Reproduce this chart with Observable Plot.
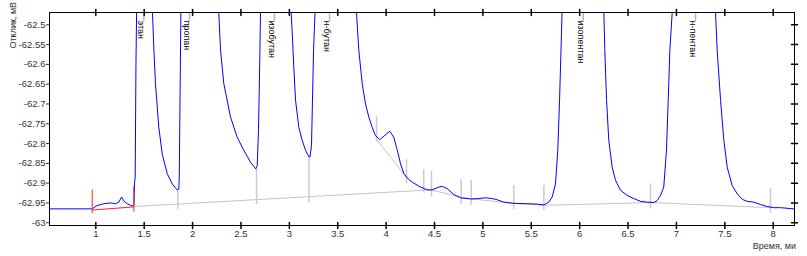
<!DOCTYPE html>
<html><head><meta charset="utf-8">
<script src="https://cdn.jsdelivr.net/npm/d3@7"></script>
<script src="https://cdn.jsdelivr.net/npm/@observablehq/plot@0.6"></script>
<style>body{margin:0;background:#fff} svg{display:block}</style>
</head><body><div id="chart"></div>
<script>
// detector signal (time, min / response, mV); peaks run off the top of the view
const curveT = [0.52,0.963,1.010,1.083,1.152,1.204,1.238,1.266,1.289,1.324,1.359,1.385,1.395,1.400,1.407,1.415,1.425,
  1.500,
  1.576,1.586,1.599,1.617,1.651,1.686,1.738,1.790,1.841,1.858,1.862,1.870,1.878,1.882,
  1.990,
  2.262,2.271,2.289,2.323,2.392,2.461,2.529,2.598,2.653,2.668,2.681,2.691,2.702,2.706,
  2.850,
  3.012,3.019,3.030,3.046,3.064,3.098,3.133,3.167,3.201,3.213,3.229,3.239,3.250,3.265,3.270,
  3.420,
  3.685,3.694,3.718,3.753,3.787,3.821,3.856,3.890,3.934,4.038,4.079,4.115,4.149,4.183,4.234,4.286,4.355,4.425,4.476,
  4.544,4.580,4.631,4.700,4.769,4.872,4.958,5.027,5.096,5.148,5.216,5.320,5.458,5.561,5.630,5.681,5.716,5.750,5.774,
  5.792,5.802,5.818,5.822,
  6.040,
  6.245,6.250,6.260,6.278,6.301,6.336,6.371,6.422,6.491,6.560,6.629,6.698,6.766,6.801,6.835,6.869,6.897,6.915,6.932,
  6.956,6.960,
  7.200,
  7.398,7.404,7.421,7.456,7.490,7.525,7.576,7.628,7.680,7.731,7.800,7.869,7.938,8.006,8.076,8.213];
const curveV = [-62.965,-62.965,-62.957,-62.952,-62.950,-62.952,-62.948,-62.935,-62.945,-62.952,-62.956,-62.958,-62.955,-62.900,-62.885,-62.600,-62.400,
  -61.500,
  -62.400,-62.470,-62.557,-62.649,-62.759,-62.826,-62.876,-62.902,-62.917,-62.915,-62.890,-62.700,-62.500,-62.400,
  -61.300,
  -62.400,-62.470,-62.565,-62.649,-62.733,-62.784,-62.817,-62.847,-62.864,-62.856,-62.767,-62.640,-62.470,-62.400,
  -61.500,
  -62.400,-62.470,-62.523,-62.607,-62.691,-62.759,-62.792,-62.817,-62.833,-62.834,-62.805,-62.691,-62.565,-62.470,-62.400,
  -61.500,
  -62.400,-62.470,-62.565,-62.649,-62.700,-62.733,-62.759,-62.780,-62.790,-62.769,-62.784,-62.817,-62.851,-62.876,-62.891,-62.900,-62.910,-62.917,-62.917,
  -62.910,-62.908,-62.914,-62.929,-62.937,-62.940,-62.939,-62.937,-62.939,-62.942,-62.948,-62.951,-62.952,-62.953,-62.955,-62.948,-62.935,-62.902,-62.817,
  -62.691,-62.607,-62.470,-62.400,
  -61.200,
  -62.400,-62.470,-62.565,-62.691,-62.792,-62.860,-62.893,-62.918,-62.931,-62.939,-62.946,-62.948,-62.949,-62.944,-62.931,-62.910,-62.817,-62.691,-62.565,
  -62.470,-62.400,
  -61.300,
  -62.400,-62.470,-62.565,-62.691,-62.792,-62.860,-62.906,-62.927,-62.941,-62.946,-62.948,-62.954,-62.959,-62.962,-62.962,-62.965];

// named peaks
const peakNames = ["этан","пропан","изобутан","н-бутан","изопентан","н-пентан"];
const peakTimes = [1.496, 1.968, 2.847, 3.415, 6.037, 7.197];

// integration baseline (gray)
const baseT = [1.401, 4.455, 4.776, 4.879, 5.320, 5.630, 6.732, 7.972];
const baseV = [-62.959, -62.917, -62.935, -62.940, -62.951, -62.956, -62.949, -62.962];
const skimT = [3.901, 4.220];
const skimV = [-62.789, -62.889];

// peak boundary markers (gray)
const markerT  = [1.847, 2.661, 3.203, 3.901, 4.211, 4.389, 4.469, 4.776, 4.879, 5.320, 5.630, 6.732, 7.972];
const markerLo = [-62.967,-62.954,-62.950,-62.796,-62.902,-62.925,-62.935,-62.954,-62.956,-62.967,-62.969,-62.965,-62.977];
const markerHi = [-62.917,-62.864,-62.834,-62.733,-62.841,-62.866,-62.870,-62.891,-62.893,-62.906,-62.906,-62.902,-62.914];

// red start segment
const redT  = [0.963, 1.393];
const redV  = [-62.968, -62.960];
const redLo = [-62.977, -62.973];
const redHi = [-62.917, -62.908];

// axes
const xTicks = [1, 1.5, 2, 2.5, 3, 3.5, 4, 4.5, 5, 5.5, 6, 6.5, 7, 7.5, 8];
const yTicks = [-63, -62.95, -62.9, -62.85, -62.8, -62.75, -62.7, -62.65, -62.6, -62.55, -62.5];
const xTitle = "Время, ми";
const yTitle = "Отклик, мВ";

const curve = curveT.map((t, i) => ({t, v: curveV[i]}));
const base = baseT.map((t, i) => ({t, v: baseV[i]}));
const skim = skimT.map((t, i) => ({t, v: skimV[i]}));
const markers = markerT.map((t, i) => ({t, lo: markerLo[i], hi: markerHi[i]}));
const red = redT.map((t, i) => ({t, v: redV[i], lo: redLo[i], hi: redHi[i]}));
const peaks = peakNames.map((name, i) => ({name, t: peakTimes[i]}));

const lineShape = {draw(ctx, l) { ctx.moveTo(0, 0); ctx.lineTo(0, -l); }};

const plot = Plot.plot({
  width: 807, height: 256,
  marginLeft: 49, marginRight: 13, marginTop: 12, marginBottom: 31,
  style: {fontFamily: "'Liberation Sans', Arial, sans-serif", fontSize: "9.5px", color: "#333", background: "#fff"},
  x: {domain: [0.5215, 8.22]},
  y: {domain: [-63.007, -62.469]},
  marks: [
    Plot.line(base, {x: "t", y: "v", stroke: "#c4c4c4", strokeWidth: 1}),
    Plot.line(skim, {x: "t", y: "v", stroke: "#c4c4c4", strokeWidth: 1}),
    Plot.ruleX(markers, {x: "t", y1: "lo", y2: "hi", stroke: "#cacaca", strokeWidth: 1.5}),
    Plot.line(curve, {x: "t", y: "v", stroke: "#0000ff", strokeWidth: 1, clip: true}),
    Plot.line(red, {x: "t", y: "v", stroke: "#ff2020", strokeWidth: 1}),
    Plot.ruleX(red, {x: "t", y1: "lo", y2: "hi", stroke: "#ff2020", strokeWidth: 1}),
    Plot.vector(peaks, {x: "t", frameAnchor: "top", length: 8, rotate: 180, anchor: "start", shape: lineShape, stroke: "#b8b8b8", strokeWidth: 1.5}),
    Plot.text(peaks, {x: "t", frameAnchor: "top", text: "name", rotate: 90, textAnchor: "start", dy: 8, dx: 1, fill: "#000", fontSize: 9}),
    Plot.frame({stroke: "#000"}),
    Plot.axisY(yTicks, {anchor: "left", tickSize: 3, tickPadding: 1, tickFormat: d => String(d), label: null}),
    Plot.axisX(xTicks, {anchor: "bottom", tickSize: 0, tickPadding: 5, tickFormat: d => String(d), label: null}),
    Plot.vector(xTicks, {x: d => d, frameAnchor: "bottom", length: 6, anchor: "middle", shape: lineShape, stroke: "#000"}),
    Plot.vector(xTicks, {x: d => d, frameAnchor: "top", length: 6, anchor: "middle", shape: lineShape, stroke: "#000"}),
    Plot.vector(yTicks, {y: d => d, frameAnchor: "right", length: 6, rotate: 90, anchor: "middle", shape: lineShape, stroke: "#000"}),
    Plot.text([xTitle], {frameAnchor: "bottom-right", text: d => d, textAnchor: "end", dx: 1.5, dy: 23, fill: "#333", fontSize: 9}),
    Plot.text([yTitle], {frameAnchor: "top-left", text: d => d, rotate: -90, textAnchor: "start", dx: -40, dy: 36, fill: "#333", fontSize: 9})
  ]
});
document.getElementById("chart").appendChild(plot);
</script>
</body></html>
